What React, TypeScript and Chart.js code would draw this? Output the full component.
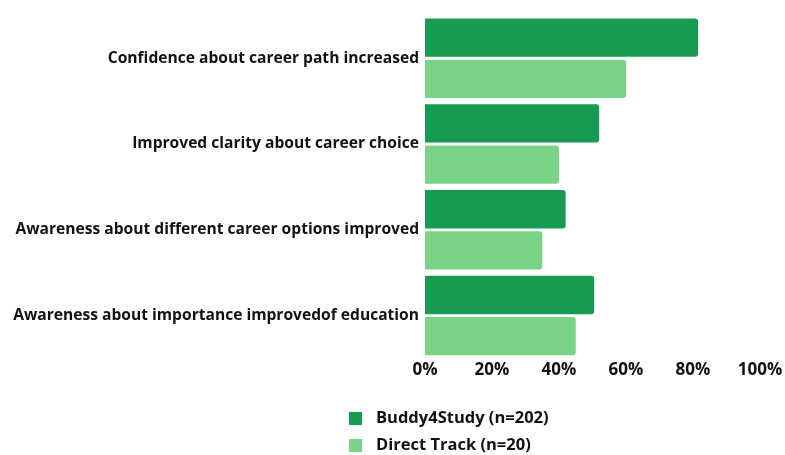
import React, { useEffect, useRef } from "react";
import { Chart, registerables } from "chart.js";

Chart.register(...registerables);

const categories = [
  "Confidence about career path increased",
  "Improved clarity about career choice",
  "Awareness about different career options improved",
  "Awareness about importance improvedof education",
];
const seriesNames = ["Buddy4Study (n=202)", "Direct Track (n=20)"];
const buddy4Study = [81.5, 52, 42, 50.5];
const directTrack = [60, 40, 35, 45];
const xTicks = [0, 20, 40, 60, 80, 100];

const DARK = "#179b52";
const LIGHT = "#78d484";
const TEXT = "#121212";
const FONT = "'Open Sans', Lato, sans-serif";

export default function App() {
  const ref = useRef<HTMLCanvasElement | null>(null);

  useEffect(() => {
    if (!ref.current) return;
    const legendPlugin = {
      id: "columnLegend",
      afterDraw(chart: any) {
        const ctx = chart.ctx;
        ctx.save();
        chart.data.datasets.forEach((ds: any, i: number) => {
          const cy = 418.5 + i * 27;
          ctx.fillStyle = ds.backgroundColor;
          ctx.fillRect(349, cy - 6.5, 13, 13);
          ctx.fillStyle = TEXT;
          ctx.font = `bold 16.5px ${FONT}`;
          ctx.textBaseline = "middle";
          ctx.textAlign = "left";
          ctx.fillText(ds.label, 376, cy);
        });
        ctx.restore();
      },
    };
    const chart = new Chart(ref.current, {
      type: "bar",
      data: {
        labels: categories,
        datasets: [
          {
            label: seriesNames[0],
            data: buddy4Study,
            backgroundColor: DARK,
            borderRadius: 3,
            borderSkipped: "start",
          },
          {
            label: seriesNames[1],
            data: directTrack,
            backgroundColor: LIGHT,
            borderRadius: 3,
            borderSkipped: "start",
          },
        ],
      },
      options: {
        indexAxis: "y",
        animation: false,
        responsive: false,
        maintainAspectRatio: false,
        datasets: {
          bar: { categoryPercentage: 0.96, barPercentage: 0.93 },
        },
        layout: { padding: { top: 14.5, bottom: 66.5, left: 0, right: 25 } },
        plugins: {
          legend: { display: false },
          tooltip: { enabled: false },
        },
        scales: {
          x: {
            min: 0,
            max: 100,
            afterBuildTicks: (scale: any) => {
              scale.ticks = xTicks.map((v) => ({ value: v }));
            },
            afterFit: (scale: any) => {
              scale.height = 30;
            },
            grid: { display: false, drawTicks: false },
            border: { display: false },
            ticks: {
              padding: 1,
              color: TEXT,
              font: { family: FONT, size: 17, weight: "bold" },
              callback: (v: any) => `${v}%`,
            },
          },
          y: {
            afterFit: (scale: any) => {
              scale.width = 425;
            },
            grid: { display: false, drawTicks: false },
            border: { display: false },
            ticks: {
              padding: 6,
              color: TEXT,
              font: { family: FONT, size: 15.6, weight: "bold" },
            },
          },
        },
      },
      plugins: [legendPlugin],
    } as any);
    return () => chart.destroy();
  }, []);

  return (
    <div style={{ position: "absolute", left: 0, top: 0, width: 785, height: 455, background: "#fff" }}>
      <canvas ref={ref} width={785} height={455} style={{ width: 785, height: 455 }} />
    </div>
  );
}
